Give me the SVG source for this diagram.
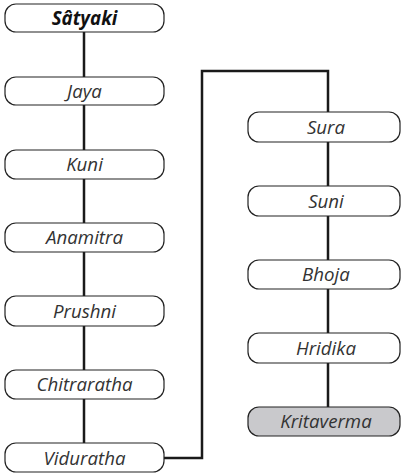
<svg xmlns="http://www.w3.org/2000/svg" width="402" height="475" viewBox="0 0 402 475">
<style>
.box{fill:#fff;stroke:#222;stroke-width:1.2}
.end{fill:#c9c9cc;stroke:#222;stroke-width:1.2}
.t{font-family:"Open Sans","Noto Sans",sans-serif;font-style:italic;font-size:18.7px;fill:#333;text-anchor:middle}
.b{font-weight:bold;fill:#111}
.c{fill:none;stroke:#1a1a1a;stroke-width:2.5}
</style>
<rect width="402" height="475" fill="#fff"/>
<g id="connectors">
<path class="c" d="M84 18 V458"/>
<path class="c" d="M164 458 H202 V71 H328 V420"/>
</g>
<g id="satyaki"><rect class="box" x="5" y="4" width="159" height="28" rx="11"/><text class="t b" x="84.5" y="24.5">Sâtyaki</text></g>
<g id="jaya"><rect class="box" x="5" y="77" width="159" height="28" rx="11"/><text class="t" x="84.5" y="97.5">Jaya</text></g>
<g id="kuni"><rect class="box" x="5" y="150" width="159" height="29" rx="11"/><text class="t" x="84.5" y="171">Kuni</text></g>
<g id="anamitra"><rect class="box" x="5" y="223" width="159" height="29" rx="11"/><text class="t" x="84.5" y="244">Anamitra</text></g>
<g id="prushni"><rect class="box" x="5" y="296" width="159" height="30" rx="11"/><text class="t" x="84.5" y="317.5">Prushni</text></g>
<g id="chitraratha"><rect class="box" x="5" y="370" width="159" height="29" rx="11"/><text class="t" x="84.5" y="391">Chitraratha</text></g>
<g id="viduratha"><rect class="box" x="5" y="443" width="159" height="29" rx="11"/><text class="t" x="84.5" y="464.5">Viduratha</text></g>
<g id="sura"><rect class="box" x="248" y="112" width="152" height="30" rx="11"/><text class="t" x="326" y="133.5">Sura</text></g>
<g id="suni"><rect class="box" x="248" y="186" width="152" height="30" rx="11"/><text class="t" x="326" y="207.5">Suni</text></g>
<g id="bhoja"><rect class="box" x="248" y="260" width="152" height="29" rx="11"/><text class="t" x="326" y="281">Bhoja</text></g>
<g id="hridika"><rect class="box" x="248" y="333" width="152" height="30" rx="11"/><text class="t" x="326" y="354.5">Hridika</text></g>
<g id="kritaverma"><rect class="end" x="248" y="407" width="152" height="29" rx="11"/><text class="t" x="326" y="427.5">Kritaverma</text></g>
</svg>
